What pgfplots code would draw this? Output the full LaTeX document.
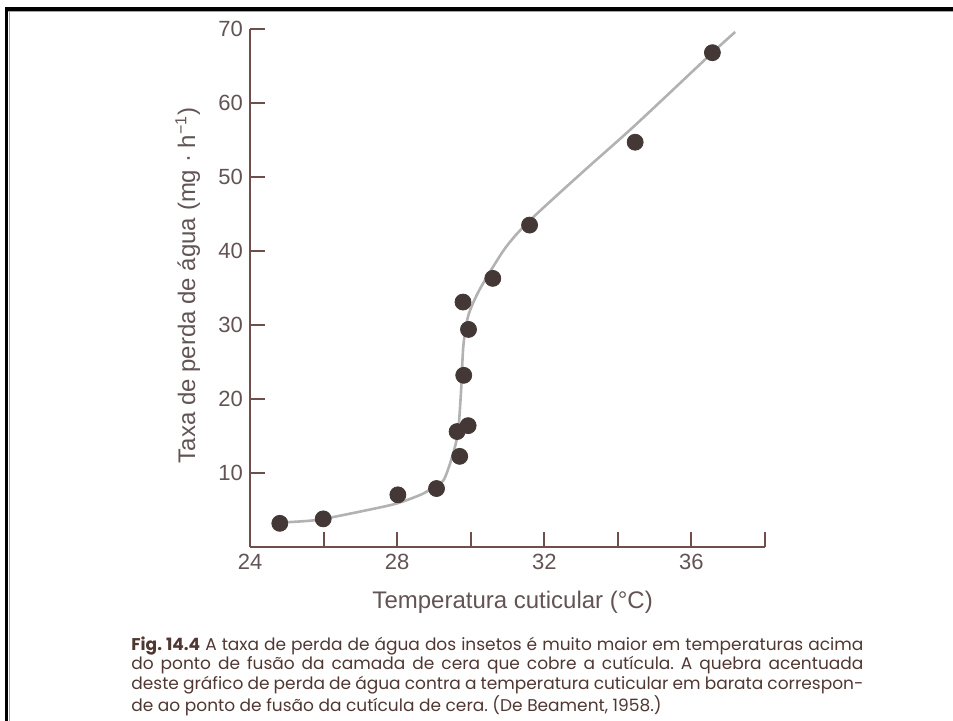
\documentclass[border=0pt]{standalone}
\usepackage{pgfplots}
\pgfplotsset{compat=1.18}
\usepackage{fontspec}
\setmainfont{Liberation Sans}
\newfontfamily\capfont{Poppins}

\definecolor{axisbrown}{RGB}{112,78,74}
\definecolor{labelgrey}{RGB}{98,84,84}
\definecolor{dotbrown}{RGB}{68,56,54}
\definecolor{curvegrey}{RGB}{178,178,178}
\definecolor{captext}{RGB}{80,55,50}

% curve
\pgfplotstableread{
x y
24.80 3.3
25.50 3.5
26.00 3.8
27.20 5.0
28.00 5.9
28.70 7.2
29.07 8.4
29.27 9.1
29.47 11.8
29.65 15.4
29.74 21.3
29.80 27.2
29.93 31.2
30.20 34.4
30.60 37.8
31.00 40.8
31.60 44.1
33.05 50.7
34.47 57.0
36.57 66.8
37.19 69.6
}\curvedata

% measured points
\pgfplotstableread{
x y
24.81 3.2
25.99 3.8
28.02 7.05
29.07 7.9
29.70 12.25
29.63 15.6
29.93 16.4
29.81 23.2
29.94 29.4
29.79 33.1
30.60 36.3
31.60 43.5
34.47 54.7
36.57 66.8
}\pointdata

\begin{document}
\begin{tikzpicture}
\useasboundingbox (0,0) rectangle (476.5pt,-360.5pt);
% scan frame
\draw[black, line width=2pt] (2.5pt,-4.5pt) -- (476.5pt,-4.5pt);
\draw[gray!70, line width=0.5pt] (4pt,-5.9pt) -- (476.5pt,-5.9pt);
\draw[black, line width=1.7pt] (3.3pt,-3.5pt) -- (3.3pt,-360.5pt);
\draw[gray!70, line width=0.5pt] (4.5pt,-5.5pt) -- (4.5pt,-360.5pt);

\begin{axis}[
  at={(125pt,-273.5pt)}, anchor=south west,
  width=257.5pt, height=259pt, scale only axis,
  xmin=24, xmax=38, ymin=0, ymax=70,
  axis lines=left, axis line style={-, axisbrown, line width=1pt},
  every tick/.style={axisbrown, line width=1pt},
  tick align=inside, major tick length=7.5pt,
  xtick={24,26,...,38}, xticklabels={24,,28,,32,,36,},
  ytick={10,20,...,70},
  /pgf/number format/assume math mode=true,
  ticklabel style={font=\fontsize{11}{13}\selectfont, text=labelgrey},
  xlabel={Temperatura cuticular (°C)},
  ylabel={Taxa de perda de água (mg · h\textsuperscript{−1})},
  label style={font=\fontsize{12}{14}\selectfont, text=labelgrey},
  xlabel style={at={(rel axis cs:0.51,0)}, anchor=base, yshift=-30.5pt},
  ylabel style={at={([xshift=-27.5pt]rel axis cs:0,0.505)}, anchor=base},
  clip=false,
]
\addplot[curvegrey, line width=1.3pt, smooth, tension=0.5] table {\curvedata};
\addplot[only marks, mark=*, mark size=4pt, mark options={fill=dotbrown, draw=dotbrown}] table {\pointdata};
\end{axis}

\node[anchor=base west, inner sep=0pt, text=captext] at (65.5pt,-325pt) {%
  \parbox[t]{366pt}{\capfont\frenchspacing\fontsize{8.5}{9.8}\selectfont
  \makebox[366pt][s]{\textbf{Fig. 14.4} A taxa de perda de água dos insetos é muito maior em temperaturas acima}\\
  \makebox[366pt][s]{do ponto de fusão da camada de cera que cobre a cutícula. A quebra acentuada}\\
  \makebox[366pt][s]{deste gráfico de perda de água contra a temperatura cuticular em barata correspon-}\\
  \makebox[366pt][l]{de ao ponto de fusão da cutícula de cera. (De Beament, 1958.)}}};
\end{tikzpicture}
\end{document}
